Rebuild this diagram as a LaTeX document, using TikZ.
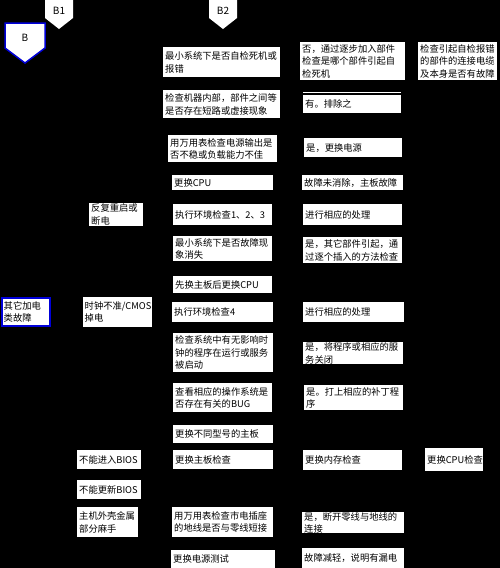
\documentclass[tikz,border=0pt]{standalone}
\usepackage{fontspec}
\setmainfont{Noto Sans CJK SC}
\newcommand\cellfont{\fontsize{9.3pt}{12.5pt}\selectfont}
\tikzset{
  cell/.style={fill=white, anchor=north west, inner xsep=2pt, inner ysep=0pt,
    align=left, font=\cellfont},
  bluecell/.style={cell, draw=blue!85!black, line width=1.5pt},
  tagfont/.style={font=\fontsize{10pt}{12pt}\selectfont},
}
\begin{document}
\begin{tikzpicture}[x=1pt, y=-1pt]
  \fill[black] (0,0) rectangle (500,568);
  \useasboundingbox (0,0) rectangle (500,568);
  % flag heads
  \draw[fill=white, draw=blue!85!black, line width=1.5pt]
    (5,23) -- (45,23) -- (45,48) -- (25,63) -- (5,48) -- cycle;
  \node[tagfont] (b) at (25,38) {B};
  \fill[white] (45,0) -- (73,0) -- (73,18) -- (59,29) -- (45,18) -- cycle;
  \node[tagfont] (b1) at (59,11) {B1};
  \fill[white] (209,0) -- (237,0) -- (237,18) -- (223,29) -- (209,18) -- cycle;
  \node[tagfont] (b2) at (223,11) {B2};
  % symptoms
  \node[bluecell, text width=44pt, minimum height=28pt] (other) at (1,297) {其它加电\\类故障};
  \node[cell, text width=50pt, minimum height=23pt] (reboot) at (89,203) {反复重启或\\断电};
  \node[cell, inner xsep=1.5pt, text width=66pt, minimum height=30pt] (clock) at (83,297) {时钟不准/CMOS\\掉电};
  \node[cell, text width=60pt, minimum height=19pt] (nobios) at (77,450) {不能进入BIOS};
  \node[cell, text width=60pt, minimum height=19pt] (noflash) at (77,480) {不能更新BIOS};
  \node[cell, text width=57pt, minimum height=30pt] (shell) at (77,507) {主机外壳金属\\部分麻手};
  % checks
  \node[cell, text width=113pt, minimum height=30pt] (q1) at (163,47) {最小系统下是否自检死机或\\报错};
  \node[cell, text width=113pt, minimum height=28pt] (q2) at (163,90) {检查机器内部，部件之间等\\是否存在短路或虚接现象};
  \node[cell, text width=105pt, minimum height=27pt] (q3) at (168,135) {用万用表检查电源输出是\\否不稳或负载能力不佳};
  \node[cell, text width=97pt, minimum height=15pt] (q4) at (172,175) {更换CPU};
  \node[cell, text width=95pt, minimum height=21pt] (q5) at (173,204) {执行环境检查1、2、3};
  \node[cell, text width=95pt, minimum height=25pt] (q6) at (173,236) {最小系统下是否故障现\\象消失};
  \node[cell, text width=95pt, minimum height=17pt] (q7) at (173,276) {先换主板后更换CPU};
  \node[cell, text width=97pt, minimum height=20pt] (q8) at (172,302) {执行环境检查4};
  \node[cell, text width=96pt, minimum height=39pt] (q9) at (173,333) {检查系统中有无影响时\\钟的程序在运行或服务\\被启动};
  \node[cell, text width=95pt, minimum height=29pt] (q10) at (173,383) {查看相应的操作系统是\\否存在有关的BUG};
  \node[cell, text width=96pt, minimum height=18pt] (q11) at (173,425) {更换不同型号的主板};
  \node[cell, text width=96pt, minimum height=19pt] (q12) at (173,450) {更换主板检查};
  \node[cell, text width=97pt, minimum height=30pt] (q13) at (172,507) {用万用表检查市电插座\\的地线是否与零线短接};
  \node[cell, text width=100pt, minimum height=18pt] (q14) at (171,550) {更换电源测试};
  % results
  \node[cell, text width=101pt, minimum height=38pt] (a1) at (300,42) {否，通过逐步加入部件\\检查是哪个部件引起自\\检死机};
  \node[cell, text width=94pt, minimum height=18pt] (a2) at (303,95) {有。排除之};
  \draw[white, line width=0.8pt] ([yshift=3pt]a2.north west) -- ([yshift=3pt]a2.north east);
  \node[cell, text width=94pt, minimum height=19pt] (a3) at (304,138) {是，更换电源};
  \node[cell, text width=97pt, minimum height=15pt] (a4) at (302,175) {故障未消除，主板故障};
  \node[cell, text width=95pt, minimum height=21pt] (a5) at (303,204) {进行相应的处理};
  \node[cell, text width=95pt, minimum height=26pt] (a6) at (303,237) {是，其它部件引起，通\\过逐个插入的方法检查};
  \node[cell, text width=97pt, minimum height=20pt] (a7) at (303,302) {进行相应的处理};
  \node[cell, text width=96pt, minimum height=22pt] (a8) at (303,342) {是，将程序或相应的服\\务关闭};
  \node[cell, text width=95pt, minimum height=25pt] (a9) at (304,385) {是。打上相应的补丁程\\序};
  \node[cell, text width=95pt, minimum height=20pt] (a10) at (303,450) {更换内存检查};
  \node[cell, text width=98pt, minimum height=21pt] (a11) at (302,512) {是，断开零线与地线的\\连接};
  \node[cell, text width=98pt, minimum height=20pt] (a12) at (302,548) {故障减轻，说明有漏电};
  \node[cell, text width=75pt, minimum height=38pt] (c1) at (418,42) {检查引起自检报错\\的部件的连接电缆\\及本身是否有故障};
  \node[cell, text width=54pt, minimum height=23pt] (c2) at (425,448) {更换CPU检查};
\end{tikzpicture}
\end{document}
